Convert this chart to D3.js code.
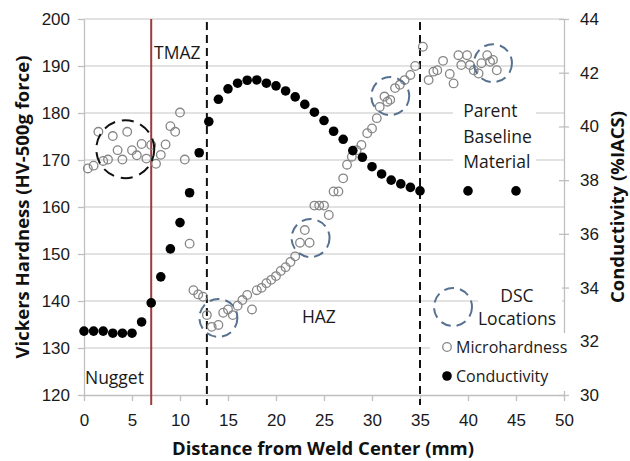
<!DOCTYPE html>
<html lang="en">
<head>
    <meta charset="UTF-8">
    <title>Microhardness and Conductivity vs Distance from Weld Center</title>
    <script src="https://d3js.org/d3.v7.min.js"></script>
    <style>
        body {
            margin: 0;
            background: #fff;
            font-family: "Open Sans", Arial, sans-serif;
        }
        .axis text {
            font-size: 17px;
            fill: #1a1a1a;
        }
        .axis path, .axis line {
            stroke: #bfbfbf;
            stroke-width: 1.3;
        }
        .grid line {
            stroke: #d9d9d9;
            stroke-width: 1.5;
        }
        .title {
            font-size: 18.5px;
            font-weight: bold;
            fill: #111;
        }
        .note {
            font-size: 17.5px;
            fill: #1a1a1a;
        }
    </style>
</head>
<body>
    <svg width="630" height="461"></svg>

    <script>
        // Microhardness readings (mm, HV)
        let hardX = [0.4, 1.0, 1.5, 2.0, 2.5, 3.0, 3.5, 4.0, 4.5, 5.0, 5.5, 6.0, 6.5, 7.0, 7.5, 8.0, 8.5, 9.0, 9.5, 10.0, 10.5,
            11.0, 11.4, 11.9, 12.4, 12.8, 13.3, 14.0, 14.5, 15.0, 15.5, 16.0, 16.5, 17.0, 17.5, 18.0, 18.5, 19.0, 19.5,
            20.0, 20.5, 21.0, 21.5, 22.0, 22.5, 23.0, 23.5, 24.0, 24.5, 25.0, 25.5, 26.0, 26.5, 27.0, 27.4, 27.9, 28.4,
            28.9, 29.5, 30.0, 30.5, 30.8, 31.3, 31.6, 31.9, 32.4, 32.9, 33.4, 34.0, 34.5, 35.3, 35.9, 36.4, 36.8, 37.4,
            38.1, 38.5, 39.0, 39.3, 39.9, 40.2, 40.6, 41.1, 41.4, 42.0, 42.3, 42.6, 43.0];
        let hardY = [168.2, 168.8, 176.0, 169.8, 170.1, 175.1, 172.1, 170.1, 176.0, 172.1, 171.0, 173.4, 170.3, 173.2, 169.2, 171.1, 173.3, 177.2, 176.0, 180.1, 170.1,
            152.2, 142.3, 141.4, 140.9, 137.0, 134.5, 134.9, 137.5, 138.2, 137.0, 139.0, 140.2, 141.3, 138.2, 142.3, 142.8, 143.8, 144.5,
            145.3, 146.4, 147.2, 148.3, 149.5, 152.4, 155.1, 152.4, 160.3, 160.3, 160.3, 158.3, 163.3, 163.3, 166.1, 169.0, 170.7, 172.1,
            173.2, 175.7, 176.7, 178.9, 181.3, 183.5, 182.4, 182.8, 185.3, 186.0, 187.0, 188.1, 190.0, 194.1, 187.0, 188.8, 189.1, 191.1,
            188.3, 186.3, 192.3, 190.2, 192.3, 190.2, 189.1, 188.4, 190.6, 192.3, 190.9, 191.3, 189.1];

        // Conductivity readings (mm, %IACS)
        let condX = [0, 1, 2, 3, 4, 5, 6, 7, 8, 9, 10, 11, 12, 13, 14, 15, 16, 17, 18, 19, 20, 21, 22, 23, 24, 25,
            26, 27, 28, 29, 30, 31, 32, 33, 34, 35, 40, 45];
        let condY = [32.38, 32.38, 32.38, 32.3, 32.3, 32.3, 32.72, 33.43, 34.4, 35.44, 36.42, 37.53, 39.02, 40.18, 41.01, 41.4,
            41.61, 41.72, 41.73, 41.61, 41.51, 41.32, 41.1, 40.82, 40.53, 40.22, 39.82, 39.52, 39.1, 38.85, 38.5, 38.23,
            38.0, 37.86, 37.73, 37.6, 37.6, 37.6];

        // DSC sample locations (mm, HV)
        let dscX = [14.0, 23.6, 31.9, 42.6];
        let dscY = [136.4, 153.4, 183.6, 190.6];

        // nugget group
        let nuggetX = 4.3, nuggetY = 172.3;

        // zone boundaries (mm)
        let nuggetEdge = 7.0;
        let zoneEdges = [12.8, 35];

        let xTicks = [0, 5, 10, 15, 20, 25, 30, 35, 40, 45, 50];
        let hardTicks = [120, 130, 140, 150, 160, 170, 180, 190, 200];
        let condTicks = [30, 32, 34, 36, 38, 40, 42, 44];

        let svg = d3.select("svg");

        let xscale = d3.scaleLinear().domain([0, 50]).range([84, 564]);
        let yleft = d3.scaleLinear().domain([120, 200]).range([395, 19]);
        let yright = d3.scaleLinear().domain([30, 44]).range([395, 19]);

        // gridlines
        svg.append("g")
            .attr("class", "grid")
            .selectAll("line")
            .data(hardTicks.slice(1))
            .join("line")
            .attr("x1", 84)
            .attr("x2", 564)
            .attr("y1", d => yleft(d))
            .attr("y2", d => yleft(d));

        // axes
        svg.append("g")
            .attr("class", "axis")
            .attr("transform", "translate(84,0)")
            .call(d3.axisLeft(yleft).tickValues(hardTicks).tickSize(6).tickPadding(8).tickSizeOuter(0));

        svg.append("g")
            .attr("class", "axis")
            .attr("transform", "translate(0,395)")
            .call(d3.axisBottom(xscale).tickValues(xTicks).tickSize(6).tickPadding(13).tickSizeOuter(0));

        let rightAxis = svg.append("g")
            .attr("class", "axis")
            .attr("transform", "translate(564,0)")
            .call(d3.axisRight(yright).tickValues(condTicks).tickSize(5).tickPadding(11).tickSizeOuter(0));
        rightAxis.selectAll(".tick line").attr("x1", -5);

        // white boxes behind notes
        svg.append("rect").attr("x", 453).attr("y", 98).attr("width", 83).attr("height", 76).attr("fill", "#fff");
        svg.append("rect").attr("x", 478).attr("y", 280).attr("width", 84).attr("height", 50).attr("fill", "#fff");
        svg.append("rect").attr("x", 430).attr("y", 333).attr("width", 146).attr("height", 58).attr("fill", "#fff");

        // zone boundaries
        svg.append("line")
            .attr("x1", xscale(nuggetEdge)).attr("x2", xscale(nuggetEdge))
            .attr("y1", 19).attr("y2", 405)
            .attr("stroke", "#9e3b3b")
            .attr("stroke-width", 2);

        svg.selectAll(".zone")
            .data(zoneEdges)
            .join("line")
            .attr("class", "zone")
            .attr("x1", d => xscale(d)).attr("x2", d => xscale(d))
            .attr("y1", 22).attr("y2", 405)
            .attr("stroke", "#111")
            .attr("stroke-width", 2)
            .attr("stroke-dasharray", "8,5");

        // microhardness
        svg.append("g")
            .selectAll("circle")
            .data(hardX)
            .join("circle")
            .attr("cx", d => xscale(d))
            .attr("cy", (d, i) => yleft(hardY[i]))
            .attr("r", 4.3)
            .attr("fill", "none")
            .attr("stroke", "#868686")
            .attr("stroke-width", 1.3);

        // conductivity
        svg.append("g")
            .selectAll("circle")
            .data(condX)
            .join("circle")
            .attr("cx", d => xscale(d))
            .attr("cy", (d, i) => yright(condY[i]))
            .attr("r", 4.8)
            .attr("fill", "#000");

        // DSC locations
        svg.append("g")
            .selectAll("circle")
            .data(dscX)
            .join("circle")
            .attr("cx", d => xscale(d))
            .attr("cy", (d, i) => yleft(dscY[i]))
            .attr("r", 19)
            .attr("fill", "none")
            .attr("stroke", "#56718f")
            .attr("stroke-width", 2)
            .attr("stroke-dasharray", "10,6");

        svg.append("circle")
            .attr("cx", xscale(nuggetX))
            .attr("cy", yleft(nuggetY))
            .attr("r", 29)
            .attr("fill", "none")
            .attr("stroke", "#111")
            .attr("stroke-width", 2)
            .attr("stroke-dasharray", "12,7");

        // zone notes
        svg.append("text").attr("class", "note").attr("x", xscale(7.3)).attr("y", yleft(191.5)).text("TMAZ");
        svg.append("text").attr("class", "note").attr("x", xscale(0.1)).attr("y", yleft(122.3)).text("Nugget");
        svg.append("text").attr("class", "note").attr("x", xscale(22.7)).attr("y", yleft(135.3)).text("HAZ");
        ["Parent", "Baseline", "Material"].forEach(function (t, i) {
            svg.append("text").attr("class", "note")
                .attr("x", xscale(39.5)).attr("y", 117 + i * 25.5).text(t);
        });

        // legend
        svg.append("circle")
            .attr("cx", 453).attr("cy", 307).attr("r", 19)
            .attr("fill", "none").attr("stroke", "#56718f")
            .attr("stroke-width", 2).attr("stroke-dasharray", "10,6");
        svg.append("text").attr("class", "note").attr("x", 517).attr("y", 302)
            .attr("text-anchor", "middle").text("DSC");
        svg.append("text").attr("class", "note").attr("x", 517).attr("y", 325)
            .attr("text-anchor", "middle").text("Locations");

        svg.append("circle").attr("cx", 447).attr("cy", 347).attr("r", 4.3)
            .attr("fill", "none").attr("stroke", "#868686").attr("stroke-width", 1.3);
        svg.append("text").attr("class", "note").attr("x", 456).attr("y", 353)
            .style("font-size", "16px").text("Microhardness");
        svg.append("circle").attr("cx", 447).attr("cy", 376).attr("r", 4.8).attr("fill", "#000");
        svg.append("text").attr("class", "note").attr("x", 456).attr("y", 382)
            .style("font-size", "16px").text("Conductivity");

        // axis titles
        svg.append("text")
            .attr("class", "title")
            .attr("x", 323)
            .attr("y", 455)
            .attr("text-anchor", "middle")
            .text("Distance from Weld Center (mm)");

        svg.append("text")
            .attr("class", "title")
            .attr("transform", "rotate(-90)")
            .attr("x", -207)
            .attr("y", 29)
            .attr("text-anchor", "middle")
            .text("Vickers Hardness (HV-500g force)");

        svg.append("text")
            .attr("class", "title")
            .attr("transform", "rotate(-90)")
            .attr("x", -207)
            .attr("y", 624)
            .attr("text-anchor", "middle")
            .text("Conductivity (%IACS)");
    </script>
</body>
</html>
